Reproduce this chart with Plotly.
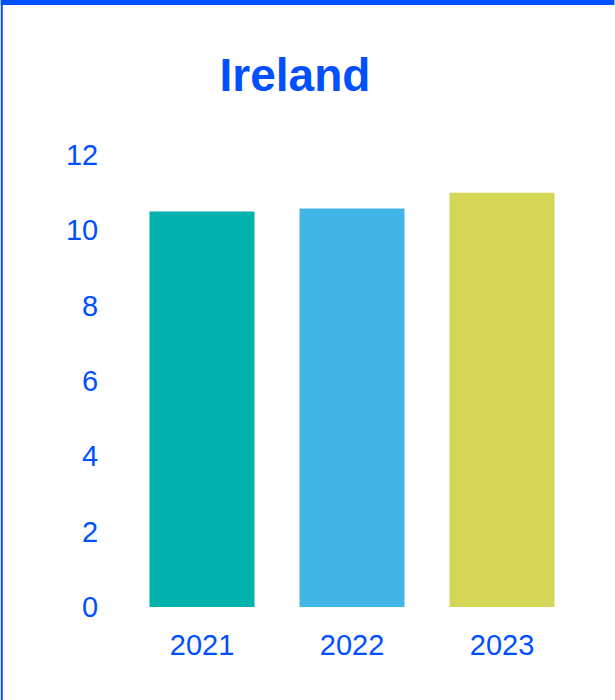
import plotly.graph_objects as go

years = ["2021", "2022", "2023"]
values = [10.5, 10.58, 11.0]
bar_colors = ["#02B2AD", "#41B6E6", "#D4D756"]
y_ticks = [0, 2, 4, 6, 8, 10, 12]
title_text = "Ireland"

TEXT = "#0050FF"
FONT = "Liberation Sans, Arial, sans-serif"

W, H = 615, 700
ml, mr, mt, mb = 126.5, 37.5, 155, 93.3
pw = W - ml - mr
ph = H - mt - mb

def px_to_paper_x(x):
    return (x - ml) / pw

def px_to_paper_y(y):
    return (H - mb - y) / ph

fig = go.Figure(go.Bar(x=years, y=values, marker=dict(color=bar_colors, line=dict(width=0)),
                       hoverinfo="x+y"))

shapes = [
    dict(type="rect", xref="paper", yref="paper", layer="above",
         x0=px_to_paper_x(0), x1=px_to_paper_x(W), y0=px_to_paper_y(5), y1=px_to_paper_y(0),
         fillcolor=TEXT, line=dict(width=0)),
    dict(type="rect", xref="paper", yref="paper", layer="above",
         x0=px_to_paper_x(0), x1=px_to_paper_x(2), y0=px_to_paper_y(H), y1=px_to_paper_y(0),
         fillcolor=TEXT, line=dict(width=0)),
]

fig.update_layout(
    width=W, height=H,
    margin=dict(l=ml, r=mr, t=mt, b=mb, pad=0),
    paper_bgcolor="white", plot_bgcolor="white",
    bargap=0.3,
    showlegend=False,
    font=dict(family=FONT, color=TEXT, size=29),
    title=dict(text="<b>" + title_text + "</b>", x=295 / W, xref="container", xanchor="center",
               y=1 - 75 / H, yref="container", yanchor="middle",
               font=dict(family=FONT, size=46, color=TEXT)),
    xaxis=dict(showgrid=False, zeroline=False, showline=False, ticks="outside", ticklen=12,
               tickcolor="rgba(0,0,0,0)", tickfont=dict(size=29, color=TEXT)),
    yaxis=dict(range=[0, 12], tickvals=y_ticks, showgrid=False, zeroline=False, showline=False,
               ticks="outside", ticklen=22, tickcolor="rgba(0,0,0,0)",
               tickfont=dict(size=29, color=TEXT)),
    shapes=shapes,
)

fig.write_html("out.html")
